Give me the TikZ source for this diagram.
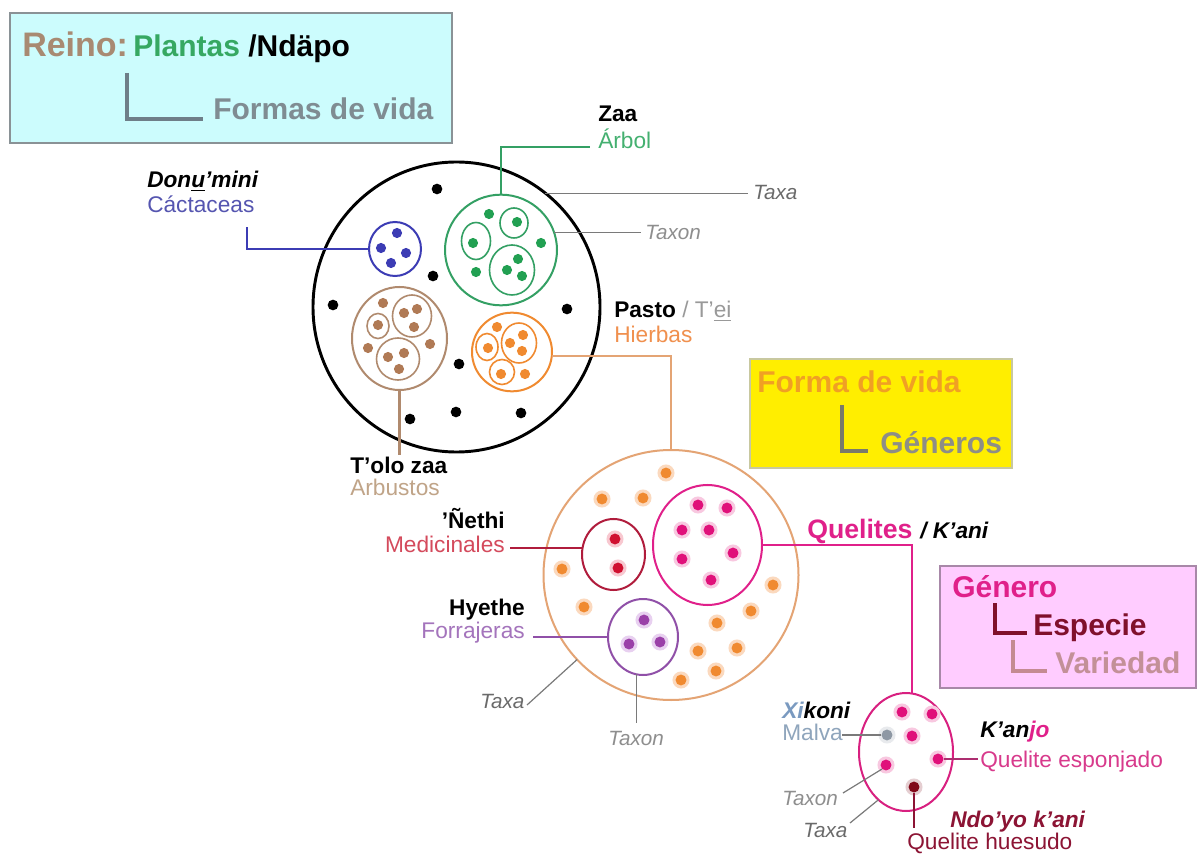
\documentclass[tikz,border=0pt]{standalone}
\usepackage{fontspec}
\setmainfont{Liberation Sans}
\usetikzlibrary{shapes.geometric}
\definecolor{cyanbg}{HTML}{CCFCFD}
\definecolor{boxgrey}{HTML}{8A9296}
\definecolor{reinoc}{HTML}{A88A72}
\definecolor{plantc}{HTML}{36A862}
\definecolor{formasc}{HTML}{7F8C92}
\definecolor{brackgrey}{HTML}{6E7E88}
\definecolor{bluec}{HTML}{3C3CB4}
\definecolor{bluetxt}{HTML}{5555B0}
\definecolor{greenc}{HTML}{34A064}
\definecolor{greendot}{HTML}{22A052}
\definecolor{greentxt}{HTML}{44B070}
\definecolor{brownc}{HTML}{B08A6E}
\definecolor{browndot}{HTML}{B07A55}
\definecolor{browntxt}{HTML}{C0A488}
\definecolor{orangec}{HTML}{F08A30}
\definecolor{orangetxt}{HTML}{F0904E}
\definecolor{orangehalo}{HTML}{FBD9BE}
\definecolor{formac}{HTML}{E4A474}
\definecolor{medc}{HTML}{B01C3C}
\definecolor{medtxt}{HTML}{D44A5C}
\definecolor{reddot}{HTML}{D01030}
\definecolor{redhalo}{HTML}{F8C8D0}
\definecolor{quelc}{HTML}{E0208A}
\definecolor{magdot}{HTML}{E0107A}
\definecolor{maghalo}{HTML}{F8C8E0}
\definecolor{purpc}{HTML}{9050A8}
\definecolor{purptxt}{HTML}{A474BC}
\definecolor{purpdot}{HTML}{9A40A8}
\definecolor{purphalo}{HTML}{E8D0F0}
\definecolor{yellowbg}{HTML}{FFEE00}
\definecolor{yellowbd}{HTML}{C8C8A0}
\definecolor{formadv}{HTML}{F0A024}
\definecolor{generosc}{HTML}{8E8E86}
\definecolor{brackolive}{HTML}{7A7A6A}
\definecolor{pinkbg}{HTML}{FFCCFF}
\definecolor{pinkbd}{HTML}{A888A8}
\definecolor{especiec}{HTML}{80102C}
\definecolor{variedadc}{HTML}{C39098}
\definecolor{brackpink}{HTML}{C48A92}
\definecolor{taxac}{HTML}{6A6A6A}
\definecolor{taxonc}{HTML}{8E8E8E}
\definecolor{linegrey}{HTML}{7A7A7A}
\definecolor{teic}{HTML}{999999}
\definecolor{xic}{HTML}{7A9AC0}
\definecolor{malvac}{HTML}{8FA5BC}
\definecolor{greydot}{HTML}{8E98A4}
\definecolor{specc}{HTML}{D82080}
\definecolor{huesc}{HTML}{8C1434}
\definecolor{maroondot}{HTML}{800818}
\definecolor{esponc}{HTML}{D83A8C}
\newcommand{\mydot}[3]{\fill[#3] (#1,#2) circle (3.8pt);}
\newcommand{\halodot}[4]{\fill[#4] (#1,#2) circle (6.4pt); \fill[#3] (#1,#2) circle (4.1pt);}
\begin{document}
\begin{tikzpicture}[x=0.75pt,y=-0.75pt,
 region/.style={ellipse, inner sep=0pt, outer sep=0pt},
 hdr/.style={font=\fontsize{22.5}{27}\selectfont\bfseries, inner sep=0pt, anchor=base west},
 lbl/.style={font=\fontsize{17}{20}\selectfont, inner sep=0pt, anchor=base west},
 lblb/.style={font=\fontsize{17}{20}\selectfont\bfseries, inner sep=0pt, anchor=base west},
 lblbi/.style={font=\fontsize{17}{20}\selectfont\bfseries\itshape, inner sep=0pt, anchor=base west},
 tax/.style={font=\fontsize{15.5}{18}\selectfont\itshape, inner sep=0pt, anchor=base west},
 conn/.style={line width=1.7pt},
 thinline/.style={line width=0.9pt, draw=linegrey},
 outerring/.style={line width=1.5pt},
 innerring/.style={line width=1.2pt}]
\useasboundingbox (0,0) rectangle (1203,855);
\fill[white] (0,0) rectangle (1203,855);

% ---- top legend box
\draw[draw=boxgrey, fill=cyanbg, line width=1.2pt] (10,13) rectangle (452,143);
\node[hdr, font=\fontsize{25.5}{30}\selectfont\bfseries, text=reinoc] (reino) at (22,57) {Reino:};
\node[hdr, text=plantc] (plantas) at (133,57) {Plantas};
\node[hdr, text=black] (ndapo) at (248,57) {/Ndäpo};
\draw[line width=3pt, draw=brackgrey] (127,73) |- (203,119);
\node[hdr, text=formasc] (formas) at (213,120) {Formas de vida};

% ---- yellow legend box
\draw[draw=yellowbd, fill=yellowbg, line width=1pt] (750,359) rectangle (1012,468);
\node[hdr, text=formadv] (formadevida) at (757,393) {Forma de vida};
\draw[line width=3pt, draw=brackolive] (842,405) |- (868,451);
\node[hdr, text=generosc] (generos) at (880,453) {Géneros};

% ---- pink legend box
\draw[draw=pinkbd, fill=pinkbg, line width=1pt] (940,566) rectangle (1196,688);
\node[hdr, text=quelc] (genero) at (952,597) {Género};
\draw[line width=3pt, draw=especiec] (995,603) |- (1027,633);
\node[hdr, text=especiec] (especie) at (1033,635) {Especie};
\draw[line width=3pt, draw=brackpink] (1013,640) |- (1047,671);
\node[hdr, text=variedadc] (variedad) at (1055,673) {Variedad};

% ---- kingdom circle
\node[region, draw=black, line width=2.2pt, minimum width=215.25pt, minimum height=217.5pt] (king) at (456.5,307) {};
\foreach \p in {(437,189),(433,276),(333,305),(567,309),(459,364),(410,419),(456,412),(521,413)}
  \fill[black] \p circle (4pt);

% cactaceas
\node[region, draw=bluec, outerring, minimum width=39pt, minimum height=40.5pt] (cact) at (395,249) {};
\mydot{397}{233}{bluec}\mydot{381}{248}{bluec}\mydot{406}{253}{bluec}\mydot{391}{263}{bluec}
\node[lblbi] (donu) at (147,188) {Don\underline{u}'mini};
\node[lbl, text=bluetxt] (cactlbl) at (147,213) {Cáctaceas};
\coordinate (cactend) at (247,227);
\draw[conn, draw=bluec] (cact.west) -| (cactend);

% arbol
\node[region, draw=greenc, outerring, minimum width=84pt, minimum height=83pt] (tree) at (501,250) {};
\node[region, draw=greenc, innerring, minimum width=21.75pt, minimum height=27.75pt] (treeA) at (476,241) {};
\node[region, draw=greenc, innerring, minimum width=21pt, minimum height=22.5pt] (treeB) at (514,223) {};
\node[region, draw=greenc, innerring, minimum width=33.75pt, minimum height=37.5pt] (treeC) at (512,270) {};
\foreach \p in {(489,214),(517,222),(473,243),(541,243),(476,272),(518,259),(507,270),(522,276)}
  \fill[greendot] \p circle (3.8pt);
\node[lblb] (zaa) at (598,122) {Zaa};
\node[lbl, text=greentxt] (arbol) at (598,149) {Árbol};
\coordinate (arbolend) at (590,147);
\draw[conn, draw=greenc] (tree.north) |- (arbolend);

% taxa / taxon top
\node[tax, text=taxac] (taxa1) at (753,200) {Taxa};
\node[tax, text=taxonc] (taxon1) at (645,240) {Taxon};
\coordinate (taxa1end) at (748,0);
\coordinate (taxon1end) at (641,0);
\draw[thinline] (king.52) -- (king.52 -| taxa1end);
\draw[thinline] (tree.18) -- (tree.18 -| taxon1end);

% arbustos
\node[region, draw=brownc, outerring, minimum width=71.25pt, minimum height=77.25pt] (shrub) at (399.5,338.5) {};
\node[region, draw=brownc, innerring, minimum width=16.5pt, minimum height=18.75pt] (shrubA) at (378,326) {};
\node[region, draw=brownc, innerring, minimum width=29.25pt, minimum height=31.5pt] (shrubB) at (412,316) {};
\node[region, draw=brownc, innerring, minimum width=32.25pt, minimum height=31.5pt] (shrubC) at (398,359) {};
\foreach \p in {(383,303),(378,325),(404,313),(417,309),(414,327),(368,348),(430,344),(388,357),(404,353),(399,369)}
  \fill[browndot] \p circle (3.8pt);
\node[lblb] (tolo) at (350,473) {T'olo zaa};
\node[lbl, text=browntxt] (arbustos) at (350,495) {Arbustos};
\coordinate (toloend) at (0,455);
\draw[conn, draw=brownc] (shrub.south) -- (shrub.south |- toloend);

% hierbas
\node[region, draw=orangec, outerring, minimum width=60pt, minimum height=59pt] (herb) at (512,352) {};
\node[region, draw=orangec, innerring, minimum width=16.5pt, minimum height=20.25pt] (herbA) at (487,347) {};
\node[region, draw=orangec, innerring, minimum width=26.25pt, minimum height=30pt] (herbB) at (519,343) {};
\node[region, draw=orangec, innerring, minimum width=18.75pt, minimum height=18.75pt] (herbC) at (502,372) {};
\foreach \p in {(497,327),(488,348),(510,343),(523,335),(522,351),(501,374),(525,374)}
  \fill[orangec] \p circle (3.8pt);
\node[lblb] (pasto) at (614,318) {Pasto \textcolor{teic}{\mdseries / T'\underline{ei}}};
\node[lbl, text=orangetxt] (hierbas) at (614,343) {Hierbas};

% ---- forma de vida: hierbas
\node[region, draw=formac, outerring, minimum width=191.25pt, minimum height=187.5pt] (forma) at (671,575) {};
\draw[conn, draw=formac] (herb.-6) -| (forma.north);
\foreach \x/\y in {666/473,602/499,643/498,562/569,584/607,773/585,751/611,717/623,737/648,698/651,716/671,681/680}
  {\halodot{\x}{\y}{orangec}{orangehalo}}

% medicinales
\node[region, draw=medc, outerring, minimum width=47.25pt, minimum height=53.25pt] (med) at (613.5,554.5) {};
\halodot{615}{539}{reddot}{redhalo}\halodot{618}{568}{reddot}{redhalo}
\node[lblb, anchor=base east] (nethi) at (505,528) {'Ñethi};
\node[lbl, anchor=base east, text=medtxt] (medlbl) at (505,552) {Medicinales};
\coordinate (medend) at (510,0);
\draw[conn, draw=medc] (med.168) -- (med.168 -| medend);

% quelites
\node[region, draw=quelc, outerring, minimum width=81.75pt, minimum height=90pt] (quel) at (707.5,545) {};
\foreach \x/\y in {698/505,727/508,682/530,709/530,733/553,682/559,711/580}
  {\halodot{\x}{\y}{magdot}{maghalo}}
\node[hdr, font=\fontsize{20}{24}\selectfont\bfseries, text=quelc] (quellbl) at (807,538) {Quelites};
\node[lblbi] (kani) at (920,538) {/ K'ani};

% forrajeras
\node[region, draw=purpc, outerring, minimum width=52.5pt, minimum height=57pt] (purp) at (643,637) {};
\halodot{644}{620}{purpdot}{purphalo}\halodot{629}{644}{purpdot}{purphalo}\halodot{660}{642}{purpdot}{purphalo}
\node[lblb, anchor=base east] (hyethe) at (525,615) {Hyethe};
\node[lbl, anchor=base east, text=purptxt] (forrlbl) at (525,638) {Forrajeras};
\coordinate (forend) at (533,0);
\draw[conn, draw=purpc] (purp.west) -- (purp.west -| forend);

% taxa / taxon middle
\node[tax, text=taxac] (taxa2) at (480,708) {Taxa};
\node[tax, text=taxonc] (taxon2) at (608,745) {Taxon};
\coordinate (taxon2end) at (0,723);
\coordinate (taxa2end) at (527,705);
\draw[thinline] (purp.-100) -- (purp.-100 |- taxon2end);
\draw[thinline] (forma.222) -- (taxa2end);

% ---- species circle
\node[region, draw=specc, outerring, minimum width=70.5pt, minimum height=88.5pt] (spec) at (906,752) {};
\draw[conn, draw=quelc] (quel.east) -| (spec.84);
\halodot{902}{712}{magdot}{maghalo}\halodot{932}{714}{magdot}{maghalo}
\halodot{912}{736}{magdot}{maghalo}
\fill[white!80!greydot] (887,735) circle (6.4pt);
\node[circle, fill=greydot, minimum size=8.2pt, inner sep=0pt] (gdot) at (887,735) {};
\fill[maghalo] (938,759) circle (6.4pt);
\node[circle, fill=magdot, minimum size=8.2pt, inner sep=0pt] (kdot) at (938,759) {};
\fill[maghalo] (886,765) circle (6.4pt);
\node[circle, fill=magdot, minimum size=8.2pt, inner sep=0pt] (tdot) at (886,765) {};
\fill[white!80!maroondot] (914,787) circle (6.4pt);
\node[circle, fill=maroondot, minimum size=8.2pt, inner sep=0pt] (hdotnode) at (914,787) {};

\node[lblbi] (xikoni) at (782,718) {\textcolor{xic}{Xi}koni};
\node[lbl, text=malvac] (malva) at (782,740) {Malva};
\coordinate (malvaend) at (842,0);
\draw[thinline] (gdot.west) -- (gdot.west -| malvaend);

\node[lblbi] (kanjo) at (980,737) {K'an\textcolor{quelc}{jo}};
\node[lbl, text=esponc] (espon) at (980,767) {Quelite esponjado};
\coordinate (esponend) at (978,0);
\draw[line width=1pt, draw=esponc!80!black] (kdot.east) -- (kdot.east -| esponend);

\node[lblbi, text=huesc] (ndoyo) at (950,827) {Ndo'yo k'ani};
\node[lbl, text=huesc] (huesudo) at (907,849) {Quelite huesudo};
\coordinate (huesend) at (0,828);
\draw[line width=1pt, draw=huesc] (hdotnode.south) -- (hdotnode.south |- huesend);

\node[tax, text=taxonc] (taxon3) at (782,805) {Taxon};
\node[tax, text=taxac] (taxa3) at (803,837) {Taxa};
\coordinate (taxon3end) at (843,793);
\coordinate (taxa3end) at (850,823);
\draw[thinline] (tdot.south west) -- (taxon3end);
\draw[thinline] (spec.240) -- (taxa3end);
\end{tikzpicture}
\end{document}
